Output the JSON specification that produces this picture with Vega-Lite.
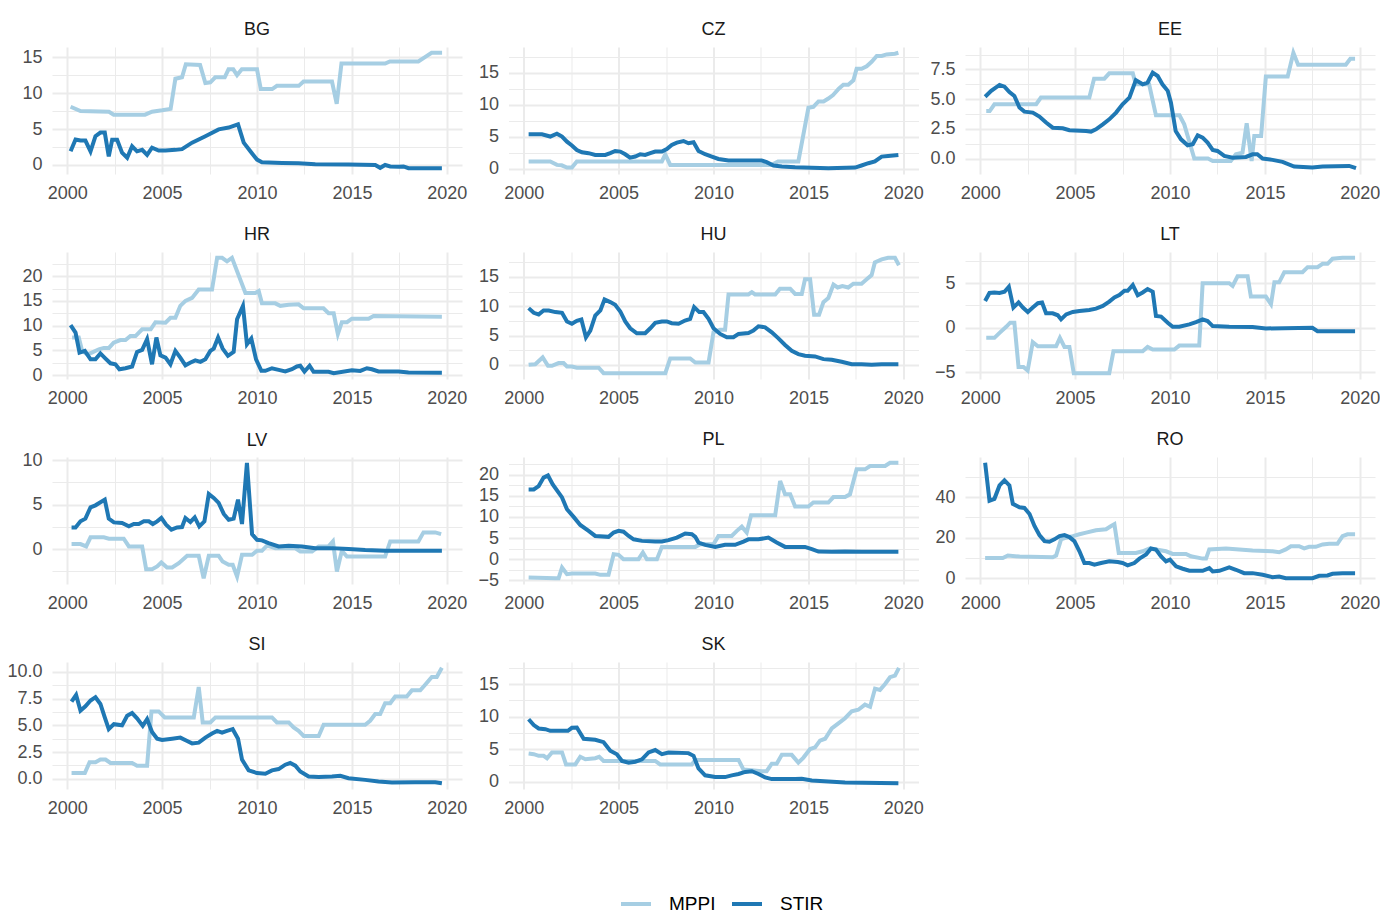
{
"$schema": "https://vega.github.io/schema/vega-lite/v6.json",
"padding": {"left": 6, "top": 20, "right": 0, "bottom": 0},
"columns": 3,
"spacing": {"row": 78, "column": 46.5},
"align": "each",
"bounds": "flush",
"datasets": {
"BG": [
{"year":2000.18,"series":"MPPI","value":8.1},{"year":2000.7,"series":"MPPI","value":7.5},{"year":2002.2,"series":"MPPI","value":7.4},{"year":2002.45,"series":"MPPI","value":7.0},{"year":2004.1,"series":"MPPI","value":7.0},{"year":2004.47,"series":"MPPI","value":7.4},{"year":2005.0,"series":"MPPI","value":7.6},{"year":2005.45,"series":"MPPI","value":7.8},{"year":2005.7,"series":"MPPI","value":12.0},{"year":2006.05,"series":"MPPI","value":12.2},{"year":2006.25,"series":"MPPI","value":14.0},{"year":2007.0,"series":"MPPI","value":13.9},{"year":2007.28,"series":"MPPI","value":11.4},{"year":2007.54,"series":"MPPI","value":11.5},{"year":2007.8,"series":"MPPI","value":12.2},{"year":2008.3,"series":"MPPI","value":12.2},{"year":2008.5,"series":"MPPI","value":13.3},{"year":2008.75,"series":"MPPI","value":13.3},{"year":2008.95,"series":"MPPI","value":12.5},{"year":2009.2,"series":"MPPI","value":13.3},{"year":2010.0,"series":"MPPI","value":13.3},{"year":2010.2,"series":"MPPI","value":10.55},{"year":2010.8,"series":"MPPI","value":10.55},{"year":2011.05,"series":"MPPI","value":11.0},{"year":2012.2,"series":"MPPI","value":11.0},{"year":2012.45,"series":"MPPI","value":11.6},{"year":2013.95,"series":"MPPI","value":11.6},{"year":2014.2,"series":"MPPI","value":8.5},{"year":2014.45,"series":"MPPI","value":14.1},{"year":2016.75,"series":"MPPI","value":14.1},{"year":2017.0,"series":"MPPI","value":14.4},{"year":2018.5,"series":"MPPI","value":14.4},{"year":2018.85,"series":"MPPI","value":15.0},{"year":2019.2,"series":"MPPI","value":15.6},{"year":2019.75,"series":"MPPI","value":15.6},
{"year":2000.18,"series":"STIR","value":1.9},{"year":2000.44,"series":"STIR","value":3.55},{"year":2000.7,"series":"STIR","value":3.4},{"year":2000.96,"series":"STIR","value":3.4},{"year":2001.23,"series":"STIR","value":1.9},{"year":2001.49,"series":"STIR","value":4.0},{"year":2001.75,"series":"STIR","value":4.5},{"year":2001.98,"series":"STIR","value":4.5},{"year":2002.19,"series":"STIR","value":1.2},{"year":2002.37,"series":"STIR","value":3.5},{"year":2002.63,"series":"STIR","value":3.5},{"year":2002.89,"series":"STIR","value":1.7},{"year":2003.16,"series":"STIR","value":1.0},{"year":2003.42,"series":"STIR","value":2.6},{"year":2003.68,"series":"STIR","value":1.9},{"year":2003.95,"series":"STIR","value":2.1},{"year":2004.21,"series":"STIR","value":1.4},{"year":2004.47,"series":"STIR","value":2.4},{"year":2004.82,"series":"STIR","value":2.0},{"year":2005.18,"series":"STIR","value":2.0},{"year":2005.7,"series":"STIR","value":2.1},{"year":2006.05,"series":"STIR","value":2.2},{"year":2006.58,"series":"STIR","value":3.1},{"year":2007.28,"series":"STIR","value":4.0},{"year":2007.98,"series":"STIR","value":4.95},{"year":2008.51,"series":"STIR","value":5.2},{"year":2009.0,"series":"STIR","value":5.65},{"year":2009.3,"series":"STIR","value":3.1},{"year":2009.65,"series":"STIR","value":1.9},{"year":2010.0,"series":"STIR","value":0.75},{"year":2010.26,"series":"STIR","value":0.37},{"year":2011.32,"series":"STIR","value":0.28},{"year":2012.19,"series":"STIR","value":0.23},{"year":2013.07,"series":"STIR","value":0.1},{"year":2014.82,"series":"STIR","value":0.05},{"year":2016.23,"series":"STIR","value":0.0},{"year":2016.49,"series":"STIR","value":-0.4},{"year":2016.75,"series":"STIR","value":0.0},{"year":2017.02,"series":"STIR","value":-0.2},{"year":2017.46,"series":"STIR","value":-0.25},{"year":2017.72,"series":"STIR","value":-0.2},{"year":2017.98,"series":"STIR","value":-0.45},{"year":2019.74,"series":"STIR","value":-0.45}
],
"CZ": [
{"year":2000.26,"series":"MPPI","value":1.1},{"year":2001.4,"series":"MPPI","value":1.1},{"year":2001.75,"series":"MPPI","value":0.57},{"year":2002.0,"series":"MPPI","value":0.5},{"year":2002.28,"series":"MPPI","value":0.15},{"year":2002.54,"series":"MPPI","value":0.15},{"year":2002.8,"series":"MPPI","value":1.1},{"year":2007.28,"series":"MPPI","value":1.1},{"year":2007.46,"series":"MPPI","value":2.2},{"year":2007.72,"series":"MPPI","value":0.57},{"year":2013.07,"series":"MPPI","value":0.57},{"year":2013.4,"series":"MPPI","value":1.1},{"year":2014.47,"series":"MPPI","value":1.1},{"year":2015.0,"series":"MPPI","value":9.5},{"year":2015.26,"series":"MPPI","value":9.65},{"year":2015.53,"series":"MPPI","value":10.5},{"year":2015.8,"series":"MPPI","value":10.5},{"year":2016.05,"series":"MPPI","value":10.95},{"year":2016.3,"series":"MPPI","value":11.5},{"year":2016.6,"series":"MPPI","value":12.5},{"year":2016.84,"series":"MPPI","value":13.1},{"year":2017.1,"series":"MPPI","value":13.1},{"year":2017.37,"series":"MPPI","value":13.8},{"year":2017.54,"series":"MPPI","value":15.6},{"year":2017.8,"series":"MPPI","value":15.6},{"year":2018.07,"series":"MPPI","value":16.0},{"year":2018.33,"series":"MPPI","value":16.7},{"year":2018.6,"series":"MPPI","value":17.6},{"year":2018.86,"series":"MPPI","value":17.6},{"year":2019.12,"series":"MPPI","value":17.85},{"year":2019.56,"series":"MPPI","value":17.95},{"year":2019.74,"series":"MPPI","value":18.1},
{"year":2000.26,"series":"STIR","value":5.35},{"year":2000.96,"series":"STIR","value":5.35},{"year":2001.4,"series":"STIR","value":5.0},{"year":2001.75,"series":"STIR","value":5.45},{"year":2002.02,"series":"STIR","value":5.0},{"year":2002.28,"series":"STIR","value":4.2},{"year":2002.54,"series":"STIR","value":3.6},{"year":2002.8,"series":"STIR","value":2.9},{"year":2003.07,"series":"STIR","value":2.55},{"year":2003.42,"series":"STIR","value":2.4},{"year":2003.77,"series":"STIR","value":2.13},{"year":2004.3,"series":"STIR","value":2.13},{"year":2004.56,"series":"STIR","value":2.4},{"year":2004.82,"series":"STIR","value":2.75},{"year":2005.09,"series":"STIR","value":2.65},{"year":2005.35,"series":"STIR","value":2.23},{"year":2005.6,"series":"STIR","value":1.7},{"year":2005.88,"series":"STIR","value":1.87},{"year":2006.14,"series":"STIR","value":2.23},{"year":2006.4,"series":"STIR","value":2.13},{"year":2006.67,"series":"STIR","value":2.4},{"year":2006.93,"series":"STIR","value":2.65},{"year":2007.28,"series":"STIR","value":2.65},{"year":2007.54,"series":"STIR","value":3.06},{"year":2007.8,"series":"STIR","value":3.7},{"year":2008.07,"series":"STIR","value":4.05},{"year":2008.42,"series":"STIR","value":4.3},{"year":2008.68,"series":"STIR","value":3.95},{"year":2008.95,"series":"STIR","value":4.1},{"year":2009.21,"series":"STIR","value":2.75},{"year":2009.56,"series":"STIR","value":2.23},{"year":2009.91,"series":"STIR","value":1.87},{"year":2010.26,"series":"STIR","value":1.5},{"year":2010.79,"series":"STIR","value":1.25},{"year":2012.54,"series":"STIR","value":1.25},{"year":2012.8,"series":"STIR","value":1.0},{"year":2013.16,"series":"STIR","value":0.47},{"year":2013.6,"series":"STIR","value":0.31},{"year":2014.3,"series":"STIR","value":0.2},{"year":2016.05,"series":"STIR","value":0.05},{"year":2017.46,"series":"STIR","value":0.15},{"year":2017.8,"series":"STIR","value":0.47},{"year":2018.16,"series":"STIR","value":0.83},{"year":2018.5,"series":"STIR","value":1.1},{"year":2018.86,"series":"STIR","value":1.87},{"year":2019.2,"series":"STIR","value":1.97},{"year":2019.74,"series":"STIR","value":2.13}
],
"EE": [
{"year":2000.32,"series":"MPPI","value":4.0},{"year":2000.5,"series":"MPPI","value":4.0},{"year":2000.75,"series":"MPPI","value":4.57},{"year":2002.95,"series":"MPPI","value":4.57},{"year":2003.2,"series":"MPPI","value":5.13},{"year":2005.75,"series":"MPPI","value":5.13},{"year":2006.0,"series":"MPPI","value":6.72},{"year":2006.54,"series":"MPPI","value":6.72},{"year":2006.8,"series":"MPPI","value":7.17},{"year":2008.04,"series":"MPPI","value":7.17},{"year":2008.2,"series":"MPPI","value":6.25},{"year":2008.9,"series":"MPPI","value":6.25},{"year":2009.26,"series":"MPPI","value":3.64},{"year":2010.5,"series":"MPPI","value":3.64},{"year":2010.75,"series":"MPPI","value":2.88},{"year":2011.28,"series":"MPPI","value":0.0},{"year":2012.0,"series":"MPPI","value":0.0},{"year":2012.25,"series":"MPPI","value":-0.2},{"year":2013.2,"series":"MPPI","value":-0.2},{"year":2013.47,"series":"MPPI","value":0.36},{"year":2013.82,"series":"MPPI","value":0.5},{"year":2014.04,"series":"MPPI","value":2.97},{"year":2014.3,"series":"MPPI","value":-0.2},{"year":2014.44,"series":"MPPI","value":1.9},{"year":2014.8,"series":"MPPI","value":1.9},{"year":2015.05,"series":"MPPI","value":6.9},{"year":2016.2,"series":"MPPI","value":6.9},{"year":2016.5,"series":"MPPI","value":8.9},{"year":2016.75,"series":"MPPI","value":7.9},{"year":2019.26,"series":"MPPI","value":7.9},{"year":2019.5,"series":"MPPI","value":8.4},{"year":2019.75,"series":"MPPI","value":8.4},
{"year":2000.26,"series":"STIR","value":5.2},{"year":2000.58,"series":"STIR","value":5.7},{"year":2001.02,"series":"STIR","value":6.2},{"year":2001.28,"series":"STIR","value":6.05},{"year":2001.54,"series":"STIR","value":5.6},{"year":2001.8,"series":"STIR","value":5.27},{"year":2002.07,"series":"STIR","value":4.29},{"year":2002.33,"series":"STIR","value":3.95},{"year":2002.77,"series":"STIR","value":3.87},{"year":2003.12,"series":"STIR","value":3.53},{"year":2003.47,"series":"STIR","value":3.03},{"year":2003.82,"series":"STIR","value":2.6},{"year":2004.35,"series":"STIR","value":2.55},{"year":2004.7,"series":"STIR","value":2.38},{"year":2005.58,"series":"STIR","value":2.32},{"year":2005.84,"series":"STIR","value":2.27},{"year":2006.1,"series":"STIR","value":2.46},{"year":2006.46,"series":"STIR","value":2.88},{"year":2006.8,"series":"STIR","value":3.3},{"year":2007.16,"series":"STIR","value":3.87},{"year":2007.5,"series":"STIR","value":4.57},{"year":2007.86,"series":"STIR","value":5.13},{"year":2008.2,"series":"STIR","value":6.6},{"year":2008.56,"series":"STIR","value":6.25},{"year":2008.82,"series":"STIR","value":6.4},{"year":2009.09,"series":"STIR","value":7.23},{"year":2009.35,"series":"STIR","value":6.95},{"year":2009.6,"series":"STIR","value":6.25},{"year":2009.88,"series":"STIR","value":5.7},{"year":2010.05,"series":"STIR","value":4.7},{"year":2010.3,"series":"STIR","value":2.32},{"year":2010.58,"series":"STIR","value":1.62},{"year":2010.93,"series":"STIR","value":1.12},{"year":2011.2,"series":"STIR","value":1.2},{"year":2011.46,"series":"STIR","value":1.96},{"year":2011.72,"series":"STIR","value":1.76},{"year":2011.98,"series":"STIR","value":1.34},{"year":2012.25,"series":"STIR","value":0.73},{"year":2012.5,"series":"STIR","value":0.64},{"year":2012.86,"series":"STIR","value":0.22},{"year":2013.3,"series":"STIR","value":0.08},{"year":2014.0,"series":"STIR","value":0.14},{"year":2014.35,"series":"STIR","value":0.36},{"year":2014.6,"series":"STIR","value":0.36},{"year":2014.88,"series":"STIR","value":0.0},{"year":2015.4,"series":"STIR","value":-0.11},{"year":2015.93,"series":"STIR","value":-0.28},{"year":2016.54,"series":"STIR","value":-0.67},{"year":2017.5,"series":"STIR","value":-0.76},{"year":2018.04,"series":"STIR","value":-0.67},{"year":2019.44,"series":"STIR","value":-0.62},{"year":2019.8,"series":"STIR","value":-0.81}
],
"HR": [
{"year":2000.26,"series":"MPPI","value":7.6},{"year":2000.61,"series":"MPPI","value":7.6},{"year":2000.79,"series":"MPPI","value":4.9},{"year":2001.05,"series":"MPPI","value":4.2},{"year":2001.3,"series":"MPPI","value":4.56},{"year":2001.67,"series":"MPPI","value":5.23},{"year":2001.93,"series":"MPPI","value":5.5},{"year":2002.2,"series":"MPPI","value":5.5},{"year":2002.45,"series":"MPPI","value":6.58},{"year":2002.8,"series":"MPPI","value":7.1},{"year":2003.07,"series":"MPPI","value":7.1},{"year":2003.33,"series":"MPPI","value":7.9},{"year":2003.6,"series":"MPPI","value":7.9},{"year":2003.95,"series":"MPPI","value":9.26},{"year":2004.4,"series":"MPPI","value":9.26},{"year":2004.65,"series":"MPPI","value":10.7},{"year":2005.18,"series":"MPPI","value":10.6},{"year":2005.44,"series":"MPPI","value":11.6},{"year":2005.7,"series":"MPPI","value":11.6},{"year":2005.96,"series":"MPPI","value":14.0},{"year":2006.23,"series":"MPPI","value":15.0},{"year":2006.58,"series":"MPPI","value":15.6},{"year":2006.93,"series":"MPPI","value":17.3},{"year":2007.63,"series":"MPPI","value":17.3},{"year":2007.9,"series":"MPPI","value":23.7},{"year":2008.16,"series":"MPPI","value":23.7},{"year":2008.42,"series":"MPPI","value":23.0},{"year":2008.68,"series":"MPPI","value":23.7},{"year":2009.39,"series":"MPPI","value":16.6},{"year":2009.91,"series":"MPPI","value":16.6},{"year":2010.09,"series":"MPPI","value":17.0},{"year":2010.26,"series":"MPPI","value":14.5},{"year":2010.96,"series":"MPPI","value":14.5},{"year":2011.23,"series":"MPPI","value":14.0},{"year":2011.67,"series":"MPPI","value":14.2},{"year":2012.19,"series":"MPPI","value":14.3},{"year":2012.46,"series":"MPPI","value":13.5},{"year":2013.5,"series":"MPPI","value":13.5},{"year":2013.77,"series":"MPPI","value":12.5},{"year":2014.04,"series":"MPPI","value":12.5},{"year":2014.26,"series":"MPPI","value":8.3},{"year":2014.47,"series":"MPPI","value":10.7},{"year":2014.74,"series":"MPPI","value":10.7},{"year":2015.0,"series":"MPPI","value":11.4},{"year":2015.88,"series":"MPPI","value":11.4},{"year":2016.14,"series":"MPPI","value":11.95},{"year":2019.74,"series":"MPPI","value":11.8},
{"year":2000.18,"series":"STIR","value":10.1},{"year":2000.44,"series":"STIR","value":8.6},{"year":2000.65,"series":"STIR","value":4.56},{"year":2000.93,"series":"STIR","value":4.9},{"year":2001.23,"series":"STIR","value":3.2},{"year":2001.49,"series":"STIR","value":3.2},{"year":2001.75,"series":"STIR","value":4.4},{"year":2002.02,"series":"STIR","value":3.36},{"year":2002.28,"series":"STIR","value":2.4},{"year":2002.54,"series":"STIR","value":2.2},{"year":2002.75,"series":"STIR","value":1.2},{"year":2003.07,"series":"STIR","value":1.4},{"year":2003.42,"series":"STIR","value":1.75},{"year":2003.68,"series":"STIR","value":4.7},{"year":2003.95,"series":"STIR","value":5.1},{"year":2004.21,"series":"STIR","value":7.25},{"year":2004.47,"series":"STIR","value":2.2},{"year":2004.7,"series":"STIR","value":7.6},{"year":2004.91,"series":"STIR","value":4.0},{"year":2005.18,"series":"STIR","value":3.56},{"year":2005.44,"series":"STIR","value":2.2},{"year":2005.7,"series":"STIR","value":4.9},{"year":2005.96,"series":"STIR","value":3.56},{"year":2006.23,"series":"STIR","value":2.0},{"year":2006.5,"series":"STIR","value":2.55},{"year":2006.75,"series":"STIR","value":3.0},{"year":2007.02,"series":"STIR","value":2.7},{"year":2007.28,"series":"STIR","value":3.2},{"year":2007.54,"series":"STIR","value":4.9},{"year":2007.72,"series":"STIR","value":5.37},{"year":2007.95,"series":"STIR","value":7.6},{"year":2008.19,"series":"STIR","value":5.37},{"year":2008.47,"series":"STIR","value":3.9},{"year":2008.77,"series":"STIR","value":4.7},{"year":2008.95,"series":"STIR","value":11.3},{"year":2009.26,"series":"STIR","value":14.0},{"year":2009.47,"series":"STIR","value":6.24},{"year":2009.7,"series":"STIR","value":7.4},{"year":2009.95,"series":"STIR","value":3.2},{"year":2010.23,"series":"STIR","value":0.87},{"year":2010.44,"series":"STIR","value":0.87},{"year":2010.79,"series":"STIR","value":1.4},{"year":2011.14,"series":"STIR","value":1.07},{"year":2011.49,"series":"STIR","value":0.74},{"year":2011.84,"series":"STIR","value":1.2},{"year":2012.1,"series":"STIR","value":1.75},{"year":2012.28,"series":"STIR","value":1.9},{"year":2012.5,"series":"STIR","value":0.74},{"year":2012.77,"series":"STIR","value":1.9},{"year":2012.98,"series":"STIR","value":0.67},{"year":2013.77,"series":"STIR","value":0.67},{"year":2014.04,"series":"STIR","value":0.4},{"year":2015.0,"series":"STIR","value":1.0},{"year":2015.44,"series":"STIR","value":0.87},{"year":2015.79,"series":"STIR","value":1.4},{"year":2016.05,"series":"STIR","value":1.2},{"year":2016.4,"series":"STIR","value":0.74},{"year":2017.46,"series":"STIR","value":0.74},{"year":2017.98,"series":"STIR","value":0.54},{"year":2019.74,"series":"STIR","value":0.47}
],
"HU": [
{"year":2000.26,"series":"MPPI","value":0.0},{"year":2000.61,"series":"MPPI","value":0.1},{"year":2001.0,"series":"MPPI","value":1.26},{"year":2001.28,"series":"MPPI","value":-0.17},{"year":2001.49,"series":"MPPI","value":-0.17},{"year":2001.84,"series":"MPPI","value":0.29},{"year":2002.1,"series":"MPPI","value":0.29},{"year":2002.28,"series":"MPPI","value":-0.29},{"year":2002.54,"series":"MPPI","value":-0.29},{"year":2002.8,"series":"MPPI","value":-0.5},{"year":2003.95,"series":"MPPI","value":-0.5},{"year":2004.21,"series":"MPPI","value":-1.43},{"year":2007.46,"series":"MPPI","value":-1.43},{"year":2007.72,"series":"MPPI","value":1.09},{"year":2008.77,"series":"MPPI","value":1.09},{"year":2009.04,"series":"MPPI","value":0.4},{"year":2009.74,"series":"MPPI","value":0.4},{"year":2010.0,"series":"MPPI","value":5.55},{"year":2010.35,"series":"MPPI","value":6.0},{"year":2010.61,"series":"MPPI","value":6.0},{"year":2010.79,"series":"MPPI","value":12.0},{"year":2011.84,"series":"MPPI","value":12.0},{"year":2012.02,"series":"MPPI","value":12.4},{"year":2012.19,"series":"MPPI","value":12.0},{"year":2013.25,"series":"MPPI","value":12.0},{"year":2013.5,"series":"MPPI","value":13.0},{"year":2014.04,"series":"MPPI","value":13.0},{"year":2014.3,"series":"MPPI","value":12.1},{"year":2014.65,"series":"MPPI","value":12.1},{"year":2014.82,"series":"MPPI","value":14.6},{"year":2015.09,"series":"MPPI","value":14.6},{"year":2015.3,"series":"MPPI","value":8.53},{"year":2015.56,"series":"MPPI","value":8.53},{"year":2015.79,"series":"MPPI","value":10.7},{"year":2016.05,"series":"MPPI","value":11.4},{"year":2016.32,"series":"MPPI","value":13.7},{"year":2016.54,"series":"MPPI","value":13.2},{"year":2016.79,"series":"MPPI","value":13.45},{"year":2017.1,"series":"MPPI","value":13.2},{"year":2017.37,"series":"MPPI","value":13.85},{"year":2017.8,"series":"MPPI","value":13.85},{"year":2018.07,"series":"MPPI","value":14.6},{"year":2018.33,"series":"MPPI","value":15.3},{"year":2018.5,"series":"MPPI","value":17.46},{"year":2018.86,"series":"MPPI","value":18.0},{"year":2019.2,"series":"MPPI","value":18.26},{"year":2019.56,"series":"MPPI","value":18.26},{"year":2019.77,"series":"MPPI","value":17.0},
{"year":2000.26,"series":"STIR","value":9.67},{"year":2000.53,"series":"STIR","value":8.87},{"year":2000.79,"series":"STIR","value":8.6},{"year":2001.05,"series":"STIR","value":9.27},{"year":2001.32,"series":"STIR","value":9.27},{"year":2001.67,"series":"STIR","value":9.0},{"year":2002.02,"series":"STIR","value":8.87},{"year":2002.28,"series":"STIR","value":7.4},{"year":2002.54,"series":"STIR","value":7.0},{"year":2002.8,"series":"STIR","value":7.5},{"year":2003.04,"series":"STIR","value":7.73},{"year":2003.28,"series":"STIR","value":4.7},{"year":2003.51,"series":"STIR","value":5.84},{"year":2003.77,"series":"STIR","value":8.4},{"year":2004.04,"series":"STIR","value":9.27},{"year":2004.26,"series":"STIR","value":11.16},{"year":2004.56,"series":"STIR","value":10.7},{"year":2004.82,"series":"STIR","value":10.25},{"year":2005.09,"series":"STIR","value":9.1},{"year":2005.35,"series":"STIR","value":7.4},{"year":2005.61,"series":"STIR","value":6.24},{"year":2005.96,"series":"STIR","value":5.38},{"year":2006.4,"series":"STIR","value":5.38},{"year":2006.67,"series":"STIR","value":6.24},{"year":2006.93,"series":"STIR","value":7.16},{"year":2007.28,"series":"STIR","value":7.4},{"year":2007.54,"series":"STIR","value":7.4},{"year":2007.8,"series":"STIR","value":7.1},{"year":2008.16,"series":"STIR","value":7.0},{"year":2008.5,"series":"STIR","value":7.56},{"year":2008.77,"series":"STIR","value":7.84},{"year":2008.98,"series":"STIR","value":9.85},{"year":2009.25,"series":"STIR","value":9.0},{"year":2009.47,"series":"STIR","value":9.0},{"year":2009.74,"series":"STIR","value":7.84},{"year":2010.0,"series":"STIR","value":6.24},{"year":2010.35,"series":"STIR","value":5.27},{"year":2010.7,"series":"STIR","value":4.7},{"year":2011.05,"series":"STIR","value":4.7},{"year":2011.32,"series":"STIR","value":5.27},{"year":2011.84,"series":"STIR","value":5.44},{"year":2012.1,"series":"STIR","value":5.84},{"year":2012.37,"series":"STIR","value":6.58},{"year":2012.72,"series":"STIR","value":6.4},{"year":2013.07,"series":"STIR","value":5.55},{"year":2013.42,"series":"STIR","value":4.52},{"year":2013.77,"series":"STIR","value":3.38},{"year":2014.12,"series":"STIR","value":2.4},{"year":2014.47,"series":"STIR","value":1.83},{"year":2014.82,"series":"STIR","value":1.55},{"year":2015.35,"series":"STIR","value":1.43},{"year":2015.79,"series":"STIR","value":0.97},{"year":2016.23,"series":"STIR","value":0.86},{"year":2016.75,"series":"STIR","value":0.52},{"year":2017.28,"series":"STIR","value":0.11},{"year":2017.8,"series":"STIR","value":0.11},{"year":2018.33,"series":"STIR","value":0.0},{"year":2018.86,"series":"STIR","value":0.11},{"year":2019.74,"series":"STIR","value":0.11}
],
"LT": [
{"year":2000.32,"series":"MPPI","value":-1.13},{"year":2000.75,"series":"MPPI","value":-1.13},{"year":2001.02,"series":"MPPI","value":-0.57},{"year":2001.37,"series":"MPPI","value":0.11},{"year":2001.58,"series":"MPPI","value":0.57},{"year":2001.8,"series":"MPPI","value":0.57},{"year":2002.02,"series":"MPPI","value":-4.4},{"year":2002.28,"series":"MPPI","value":-4.4},{"year":2002.5,"series":"MPPI","value":-4.8},{"year":2002.77,"series":"MPPI","value":-1.62},{"year":2003.04,"series":"MPPI","value":-2.08},{"year":2004.0,"series":"MPPI","value":-2.08},{"year":2004.2,"series":"MPPI","value":-1.13},{"year":2004.44,"series":"MPPI","value":-2.15},{"year":2004.7,"series":"MPPI","value":-2.15},{"year":2004.93,"series":"MPPI","value":-5.1},{"year":2006.8,"series":"MPPI","value":-5.1},{"year":2007.02,"series":"MPPI","value":-2.64},{"year":2008.56,"series":"MPPI","value":-2.64},{"year":2008.82,"series":"MPPI","value":-2.15},{"year":2009.09,"series":"MPPI","value":-2.45},{"year":2010.23,"series":"MPPI","value":-2.45},{"year":2010.49,"series":"MPPI","value":-2.0},{"year":2011.54,"series":"MPPI","value":-2.0},{"year":2011.72,"series":"MPPI","value":5.0},{"year":2013.12,"series":"MPPI","value":5.0},{"year":2013.3,"series":"MPPI","value":4.7},{"year":2013.56,"series":"MPPI","value":5.77},{"year":2014.09,"series":"MPPI","value":5.77},{"year":2014.26,"series":"MPPI","value":3.5},{"year":2015.05,"series":"MPPI","value":3.5},{"year":2015.32,"series":"MPPI","value":2.64},{"year":2015.5,"series":"MPPI","value":5.1},{"year":2015.75,"series":"MPPI","value":5.1},{"year":2016.02,"series":"MPPI","value":6.23},{"year":2016.98,"series":"MPPI","value":6.23},{"year":2017.25,"series":"MPPI","value":6.8},{"year":2017.77,"series":"MPPI","value":6.8},{"year":2018.04,"series":"MPPI","value":7.17},{"year":2018.3,"series":"MPPI","value":7.17},{"year":2018.56,"series":"MPPI","value":7.74},{"year":2019.09,"series":"MPPI","value":7.85},{"year":2019.75,"series":"MPPI","value":7.85},
{"year":2000.26,"series":"STIR","value":3.0},{"year":2000.49,"series":"STIR","value":3.9},{"year":2000.75,"series":"STIR","value":3.96},{"year":2001.02,"series":"STIR","value":3.9},{"year":2001.28,"series":"STIR","value":4.04},{"year":2001.51,"series":"STIR","value":4.6},{"year":2001.75,"series":"STIR","value":2.26},{"year":2002.02,"series":"STIR","value":2.83},{"year":2002.25,"series":"STIR","value":2.26},{"year":2002.51,"series":"STIR","value":1.77},{"year":2002.77,"series":"STIR","value":2.26},{"year":2003.04,"series":"STIR","value":2.75},{"year":2003.26,"series":"STIR","value":2.83},{"year":2003.47,"series":"STIR","value":1.62},{"year":2003.82,"series":"STIR","value":1.62},{"year":2004.09,"series":"STIR","value":1.4},{"year":2004.26,"series":"STIR","value":0.94},{"year":2004.53,"series":"STIR","value":1.5},{"year":2004.88,"series":"STIR","value":1.77},{"year":2005.23,"series":"STIR","value":1.89},{"year":2005.75,"series":"STIR","value":2.0},{"year":2006.1,"series":"STIR","value":2.15},{"year":2006.46,"series":"STIR","value":2.45},{"year":2006.8,"series":"STIR","value":2.94},{"year":2007.07,"series":"STIR","value":3.4},{"year":2007.33,"series":"STIR","value":3.66},{"year":2007.6,"series":"STIR","value":4.15},{"year":2007.77,"series":"STIR","value":4.15},{"year":2008.04,"series":"STIR","value":4.8},{"year":2008.3,"series":"STIR","value":3.66},{"year":2008.56,"series":"STIR","value":3.96},{"year":2008.82,"series":"STIR","value":4.34},{"year":2009.09,"series":"STIR","value":4.04},{"year":2009.26,"series":"STIR","value":1.32},{"year":2009.53,"series":"STIR","value":1.25},{"year":2009.88,"series":"STIR","value":0.57},{"year":2010.14,"series":"STIR","value":0.11},{"year":2010.49,"series":"STIR","value":0.11},{"year":2011.02,"series":"STIR","value":0.38},{"year":2011.37,"series":"STIR","value":0.64},{"year":2011.72,"series":"STIR","value":0.94},{"year":2011.98,"series":"STIR","value":0.75},{"year":2012.25,"series":"STIR","value":0.19},{"year":2013.12,"series":"STIR","value":0.11},{"year":2014.35,"series":"STIR","value":0.08},{"year":2015.05,"series":"STIR","value":-0.08},{"year":2017.5,"series":"STIR","value":0.0},{"year":2017.77,"series":"STIR","value":-0.38},{"year":2019.75,"series":"STIR","value":-0.38}
],
"LV": [
{"year":2000.23,"series":"MPPI","value":0.56},{"year":2000.7,"series":"MPPI","value":0.56},{"year":2001.0,"series":"MPPI","value":0.3},{"year":2001.23,"series":"MPPI","value":1.32},{"year":2001.93,"series":"MPPI","value":1.32},{"year":2002.2,"series":"MPPI","value":1.17},{"year":2002.98,"series":"MPPI","value":1.17},{"year":2003.25,"series":"MPPI","value":0.3},{"year":2003.95,"series":"MPPI","value":0.3},{"year":2004.16,"series":"MPPI","value":-2.26},{"year":2004.47,"series":"MPPI","value":-2.26},{"year":2004.74,"series":"MPPI","value":-1.95},{"year":2004.96,"series":"MPPI","value":-1.5},{"year":2005.26,"series":"MPPI","value":-2.07},{"year":2005.53,"series":"MPPI","value":-2.07},{"year":2005.88,"series":"MPPI","value":-1.58},{"year":2006.32,"series":"MPPI","value":-0.75},{"year":2006.93,"series":"MPPI","value":-0.75},{"year":2007.19,"series":"MPPI","value":-3.27},{"year":2007.46,"series":"MPPI","value":-0.75},{"year":2007.98,"series":"MPPI","value":-0.75},{"year":2008.19,"series":"MPPI","value":-1.4},{"year":2008.51,"series":"MPPI","value":-1.77},{"year":2008.72,"series":"MPPI","value":-1.77},{"year":2008.95,"series":"MPPI","value":-3.08},{"year":2009.21,"series":"MPPI","value":-0.64},{"year":2009.74,"series":"MPPI","value":-0.64},{"year":2010.0,"series":"MPPI","value":-0.19},{"year":2010.26,"series":"MPPI","value":-0.19},{"year":2010.53,"series":"MPPI","value":0.41},{"year":2010.96,"series":"MPPI","value":0.11},{"year":2012.0,"series":"MPPI","value":0.11},{"year":2012.28,"series":"MPPI","value":-0.26},{"year":2012.9,"series":"MPPI","value":-0.26},{"year":2013.25,"series":"MPPI","value":0.3},{"year":2013.77,"series":"MPPI","value":0.3},{"year":2014.0,"series":"MPPI","value":0.86},{"year":2014.21,"series":"MPPI","value":-2.52},{"year":2014.47,"series":"MPPI","value":-0.19},{"year":2014.74,"series":"MPPI","value":-0.83},{"year":2016.75,"series":"MPPI","value":-0.83},{"year":2017.02,"series":"MPPI","value":0.86},{"year":2018.5,"series":"MPPI","value":0.86},{"year":2018.77,"series":"MPPI","value":1.88},{"year":2019.39,"series":"MPPI","value":1.88},{"year":2019.7,"series":"MPPI","value":1.69},
{"year":2000.23,"series":"STIR","value":2.44},{"year":2000.44,"series":"STIR","value":2.44},{"year":2000.7,"series":"STIR","value":3.12},{"year":2000.96,"series":"STIR","value":3.42},{"year":2001.23,"series":"STIR","value":4.7},{"year":2001.49,"series":"STIR","value":4.92},{"year":2001.98,"series":"STIR","value":5.56},{"year":2002.19,"series":"STIR","value":3.42},{"year":2002.46,"series":"STIR","value":3.0},{"year":2002.89,"series":"STIR","value":2.93},{"year":2003.25,"series":"STIR","value":2.56},{"year":2003.51,"series":"STIR","value":2.82},{"year":2003.77,"series":"STIR","value":2.82},{"year":2004.04,"series":"STIR","value":3.12},{"year":2004.3,"series":"STIR","value":3.12},{"year":2004.51,"series":"STIR","value":2.82},{"year":2004.74,"series":"STIR","value":3.12},{"year":2004.96,"series":"STIR","value":3.5},{"year":2005.21,"series":"STIR","value":2.74},{"year":2005.49,"series":"STIR","value":2.18},{"year":2005.79,"series":"STIR","value":2.44},{"year":2006.05,"series":"STIR","value":2.48},{"year":2006.23,"series":"STIR","value":3.5},{"year":2006.49,"series":"STIR","value":3.05},{"year":2006.72,"series":"STIR","value":3.57},{"year":2006.96,"series":"STIR","value":2.56},{"year":2007.23,"series":"STIR","value":3.12},{"year":2007.46,"series":"STIR","value":6.2},{"year":2007.72,"series":"STIR","value":5.75},{"year":2007.98,"series":"STIR","value":5.19},{"year":2008.25,"series":"STIR","value":3.95},{"year":2008.51,"series":"STIR","value":3.3},{"year":2008.77,"series":"STIR","value":3.42},{"year":2009.0,"series":"STIR","value":5.56},{"year":2009.21,"series":"STIR","value":2.82},{"year":2009.47,"series":"STIR","value":9.7},{"year":2009.74,"series":"STIR","value":1.69},{"year":2010.0,"series":"STIR","value":1.05},{"year":2010.26,"series":"STIR","value":0.98},{"year":2010.61,"series":"STIR","value":0.68},{"year":2011.14,"series":"STIR","value":0.3},{"year":2011.67,"series":"STIR","value":0.38},{"year":2012.37,"series":"STIR","value":0.3},{"year":2013.07,"series":"STIR","value":0.11},{"year":2013.95,"series":"STIR","value":0.11},{"year":2014.82,"series":"STIR","value":0.0},{"year":2015.7,"series":"STIR","value":-0.11},{"year":2016.75,"series":"STIR","value":-0.19},{"year":2019.74,"series":"STIR","value":-0.19}
],
"PL": [
{"year":2000.26,"series":"MPPI","value":-4.33},{"year":2001.67,"series":"MPPI","value":-4.5},{"year":2001.84,"series":"MPPI","value":-4.5},{"year":2002.02,"series":"MPPI","value":-1.97},{"year":2002.28,"series":"MPPI","value":-3.54},{"year":2002.54,"series":"MPPI","value":-3.39},{"year":2003.77,"series":"MPPI","value":-3.39},{"year":2004.04,"series":"MPPI","value":-3.7},{"year":2004.47,"series":"MPPI","value":-3.7},{"year":2004.74,"series":"MPPI","value":1.18},{"year":2005.0,"series":"MPPI","value":1.02},{"year":2005.26,"series":"MPPI","value":0.0},{"year":2006.05,"series":"MPPI","value":0.0},{"year":2006.28,"series":"MPPI","value":1.57},{"year":2006.49,"series":"MPPI","value":0.0},{"year":2007.02,"series":"MPPI","value":0.0},{"year":2007.28,"series":"MPPI","value":2.91},{"year":2009.04,"series":"MPPI","value":2.91},{"year":2009.3,"series":"MPPI","value":3.54},{"year":2010.0,"series":"MPPI","value":3.54},{"year":2010.26,"series":"MPPI","value":5.5},{"year":2010.96,"series":"MPPI","value":5.5},{"year":2011.23,"series":"MPPI","value":6.7},{"year":2011.49,"series":"MPPI","value":7.7},{"year":2011.75,"series":"MPPI","value":6.3},{"year":2011.98,"series":"MPPI","value":10.4},{"year":2013.25,"series":"MPPI","value":10.4},{"year":2013.51,"series":"MPPI","value":18.5},{"year":2013.77,"series":"MPPI","value":15.35},{"year":2014.04,"series":"MPPI","value":15.35},{"year":2014.3,"series":"MPPI","value":12.44},{"year":2015.0,"series":"MPPI","value":12.44},{"year":2015.26,"series":"MPPI","value":13.4},{"year":2016.05,"series":"MPPI","value":13.4},{"year":2016.32,"series":"MPPI","value":14.7},{"year":2016.93,"series":"MPPI","value":14.7},{"year":2017.19,"series":"MPPI","value":15.35},{"year":2017.54,"series":"MPPI","value":21.26},{"year":2017.98,"series":"MPPI","value":21.26},{"year":2018.25,"series":"MPPI","value":22.05},{"year":2019.04,"series":"MPPI","value":22.05},{"year":2019.3,"series":"MPPI","value":22.8},{"year":2019.74,"series":"MPPI","value":22.8},
{"year":2000.26,"series":"STIR","value":16.5},{"year":2000.53,"series":"STIR","value":16.5},{"year":2000.79,"series":"STIR","value":17.3},{"year":2001.05,"series":"STIR","value":19.3},{"year":2001.28,"series":"STIR","value":19.8},{"year":2001.53,"series":"STIR","value":17.7},{"year":2001.84,"series":"STIR","value":15.75},{"year":2002.02,"series":"STIR","value":14.6},{"year":2002.28,"series":"STIR","value":11.8},{"year":2002.63,"series":"STIR","value":10.0},{"year":2002.98,"series":"STIR","value":8.1},{"year":2003.42,"series":"STIR","value":6.7},{"year":2003.77,"series":"STIR","value":5.5},{"year":2004.47,"series":"STIR","value":5.28},{"year":2004.74,"series":"STIR","value":6.3},{"year":2005.0,"series":"STIR","value":6.7},{"year":2005.26,"series":"STIR","value":6.5},{"year":2005.53,"series":"STIR","value":5.5},{"year":2005.79,"series":"STIR","value":4.7},{"year":2006.23,"series":"STIR","value":4.33},{"year":2006.93,"series":"STIR","value":4.17},{"year":2007.28,"series":"STIR","value":4.17},{"year":2007.63,"series":"STIR","value":4.5},{"year":2008.07,"series":"STIR","value":5.1},{"year":2008.51,"series":"STIR","value":6.06},{"year":2008.86,"series":"STIR","value":5.9},{"year":2009.04,"series":"STIR","value":5.28},{"year":2009.21,"series":"STIR","value":3.94},{"year":2009.56,"series":"STIR","value":3.39},{"year":2010.09,"series":"STIR","value":2.91},{"year":2010.61,"series":"STIR","value":3.39},{"year":2011.14,"series":"STIR","value":3.39},{"year":2011.58,"series":"STIR","value":4.17},{"year":2011.84,"series":"STIR","value":4.7},{"year":2012.37,"series":"STIR","value":4.7},{"year":2012.89,"series":"STIR","value":5.1},{"year":2013.33,"series":"STIR","value":3.94},{"year":2013.77,"series":"STIR","value":2.91},{"year":2014.82,"series":"STIR","value":2.91},{"year":2015.18,"series":"STIR","value":2.36},{"year":2015.53,"series":"STIR","value":1.8},{"year":2016.23,"series":"STIR","value":1.73},{"year":2016.93,"series":"STIR","value":1.8},{"year":2017.8,"series":"STIR","value":1.73},{"year":2019.74,"series":"STIR","value":1.73}
],
"RO": [
{"year":2000.26,"series":"MPPI","value":10.0},{"year":2001.19,"series":"MPPI","value":10.0},{"year":2001.46,"series":"MPPI","value":11.2},{"year":2002.07,"series":"MPPI","value":10.67},{"year":2003.82,"series":"MPPI","value":10.33},{"year":2004.0,"series":"MPPI","value":11.2},{"year":2004.26,"series":"MPPI","value":19.2},{"year":2004.53,"series":"MPPI","value":20.0},{"year":2004.88,"series":"MPPI","value":20.8},{"year":2005.23,"series":"MPPI","value":21.7},{"year":2005.58,"series":"MPPI","value":22.5},{"year":2006.1,"series":"MPPI","value":23.7},{"year":2006.63,"series":"MPPI","value":24.2},{"year":2006.9,"series":"MPPI","value":25.8},{"year":2007.07,"series":"MPPI","value":26.7},{"year":2007.3,"series":"MPPI","value":12.5},{"year":2008.2,"series":"MPPI","value":12.5},{"year":2008.56,"series":"MPPI","value":13.3},{"year":2008.91,"series":"MPPI","value":14.7},{"year":2009.26,"series":"MPPI","value":14.2},{"year":2009.79,"series":"MPPI","value":13.3},{"year":2010.14,"series":"MPPI","value":12.0},{"year":2010.84,"series":"MPPI","value":12.0},{"year":2011.1,"series":"MPPI","value":10.8},{"year":2011.72,"series":"MPPI","value":9.67},{"year":2011.9,"series":"MPPI","value":9.67},{"year":2012.07,"series":"MPPI","value":14.2},{"year":2012.95,"series":"MPPI","value":14.7},{"year":2013.65,"series":"MPPI","value":14.2},{"year":2014.35,"series":"MPPI","value":13.67},{"year":2015.4,"series":"MPPI","value":13.3},{"year":2015.75,"series":"MPPI","value":12.8},{"year":2016.1,"series":"MPPI","value":14.2},{"year":2016.37,"series":"MPPI","value":15.8},{"year":2016.8,"series":"MPPI","value":15.8},{"year":2017.07,"series":"MPPI","value":14.7},{"year":2017.33,"series":"MPPI","value":15.5},{"year":2017.68,"series":"MPPI","value":15.5},{"year":2018.04,"series":"MPPI","value":16.7},{"year":2018.39,"series":"MPPI","value":17.0},{"year":2018.82,"series":"MPPI","value":17.0},{"year":2019.09,"series":"MPPI","value":20.8},{"year":2019.35,"series":"MPPI","value":21.7},{"year":2019.75,"series":"MPPI","value":21.7},
{"year":2000.26,"series":"STIR","value":57.0},{"year":2000.49,"series":"STIR","value":38.3},{"year":2000.75,"series":"STIR","value":39.2},{"year":2001.02,"series":"STIR","value":45.8},{"year":2001.28,"series":"STIR","value":48.3},{"year":2001.54,"series":"STIR","value":45.8},{"year":2001.72,"series":"STIR","value":36.7},{"year":2002.07,"series":"STIR","value":35.0},{"year":2002.33,"series":"STIR","value":34.7},{"year":2002.6,"series":"STIR","value":31.7},{"year":2002.86,"series":"STIR","value":25.8},{"year":2003.12,"series":"STIR","value":21.3},{"year":2003.39,"series":"STIR","value":18.3},{"year":2003.65,"series":"STIR","value":18.0},{"year":2003.91,"series":"STIR","value":19.2},{"year":2004.18,"series":"STIR","value":20.8},{"year":2004.44,"series":"STIR","value":21.3},{"year":2004.7,"series":"STIR","value":20.3},{"year":2004.96,"series":"STIR","value":18.3},{"year":2005.23,"series":"STIR","value":13.3},{"year":2005.49,"series":"STIR","value":7.5},{"year":2005.75,"series":"STIR","value":7.5},{"year":2006.02,"series":"STIR","value":6.67},{"year":2006.37,"series":"STIR","value":7.5},{"year":2006.8,"series":"STIR","value":8.33},{"year":2007.25,"series":"STIR","value":8.0},{"year":2007.5,"series":"STIR","value":7.5},{"year":2007.77,"series":"STIR","value":6.33},{"year":2008.12,"series":"STIR","value":7.5},{"year":2008.39,"series":"STIR","value":9.67},{"year":2008.74,"series":"STIR","value":11.67},{"year":2009.0,"series":"STIR","value":14.67},{"year":2009.26,"series":"STIR","value":14.2},{"year":2009.53,"series":"STIR","value":10.8},{"year":2009.79,"series":"STIR","value":8.33},{"year":2010.0,"series":"STIR","value":9.17},{"year":2010.32,"series":"STIR","value":5.83},{"year":2010.67,"series":"STIR","value":4.67},{"year":2011.02,"series":"STIR","value":3.67},{"year":2011.72,"series":"STIR","value":3.67},{"year":2012.07,"series":"STIR","value":5.0},{"year":2012.25,"series":"STIR","value":3.33},{"year":2012.6,"series":"STIR","value":3.67},{"year":2013.12,"series":"STIR","value":5.33},{"year":2013.47,"series":"STIR","value":4.17},{"year":2013.91,"series":"STIR","value":2.5},{"year":2014.35,"series":"STIR","value":2.5},{"year":2014.88,"series":"STIR","value":1.67},{"year":2015.4,"series":"STIR","value":0.5},{"year":2015.75,"series":"STIR","value":0.83},{"year":2016.1,"series":"STIR","value":0.0},{"year":2017.51,"series":"STIR","value":0.0},{"year":2017.86,"series":"STIR","value":1.17},{"year":2018.3,"series":"STIR","value":1.33},{"year":2018.56,"series":"STIR","value":2.17},{"year":2019.09,"series":"STIR","value":2.5},{"year":2019.75,"series":"STIR","value":2.5}
],
"SI": [
{"year":2000.23,"series":"MPPI","value":0.54},{"year":2000.93,"series":"MPPI","value":0.54},{"year":2001.18,"series":"MPPI","value":1.55},{"year":2001.49,"series":"MPPI","value":1.55},{"year":2001.75,"series":"MPPI","value":1.8},{"year":2002.02,"series":"MPPI","value":1.8},{"year":2002.28,"series":"MPPI","value":1.48},{"year":2003.42,"series":"MPPI","value":1.48},{"year":2003.68,"series":"MPPI","value":1.23},{"year":2004.21,"series":"MPPI","value":1.23},{"year":2004.44,"series":"MPPI","value":6.3},{"year":2004.82,"series":"MPPI","value":6.3},{"year":2005.14,"series":"MPPI","value":5.74},{"year":2006.67,"series":"MPPI","value":5.74},{"year":2006.93,"series":"MPPI","value":8.58},{"year":2007.14,"series":"MPPI","value":5.27},{"year":2007.54,"series":"MPPI","value":5.27},{"year":2007.81,"series":"MPPI","value":5.74},{"year":2010.79,"series":"MPPI","value":5.74},{"year":2011.05,"series":"MPPI","value":5.27},{"year":2011.67,"series":"MPPI","value":5.27},{"year":2011.93,"series":"MPPI","value":4.8},{"year":2012.19,"series":"MPPI","value":4.48},{"year":2012.46,"series":"MPPI","value":4.0},{"year":2013.25,"series":"MPPI","value":4.0},{"year":2013.51,"series":"MPPI","value":5.05},{"year":2015.7,"series":"MPPI","value":5.05},{"year":2015.96,"series":"MPPI","value":5.43},{"year":2016.23,"series":"MPPI","value":6.06},{"year":2016.49,"series":"MPPI","value":6.06},{"year":2016.75,"series":"MPPI","value":7.07},{"year":2017.02,"series":"MPPI","value":7.07},{"year":2017.28,"series":"MPPI","value":7.7},{"year":2017.89,"series":"MPPI","value":7.7},{"year":2018.16,"series":"MPPI","value":8.27},{"year":2018.6,"series":"MPPI","value":8.27},{"year":2018.86,"series":"MPPI","value":8.8},{"year":2019.21,"series":"MPPI","value":9.53},{"year":2019.47,"series":"MPPI","value":9.53},{"year":2019.74,"series":"MPPI","value":10.38},
{"year":2000.23,"series":"STIR","value":7.22},{"year":2000.47,"series":"STIR","value":7.85},{"year":2000.7,"series":"STIR","value":6.37},{"year":2000.96,"series":"STIR","value":6.78},{"year":2001.23,"series":"STIR","value":7.32},{"year":2001.49,"series":"STIR","value":7.63},{"year":2001.75,"series":"STIR","value":7.0},{"year":2001.98,"series":"STIR","value":5.74},{"year":2002.19,"series":"STIR","value":4.64},{"year":2002.46,"series":"STIR","value":5.11},{"year":2002.89,"series":"STIR","value":5.0},{"year":2003.16,"series":"STIR","value":5.9},{"year":2003.42,"series":"STIR","value":6.15},{"year":2003.68,"series":"STIR","value":5.65},{"year":2003.98,"series":"STIR","value":4.95},{"year":2004.21,"series":"STIR","value":5.58},{"year":2004.47,"series":"STIR","value":4.38},{"year":2004.74,"series":"STIR","value":3.75},{"year":2005.0,"series":"STIR","value":3.63},{"year":2005.53,"series":"STIR","value":3.75},{"year":2005.96,"series":"STIR","value":3.85},{"year":2006.32,"series":"STIR","value":3.53},{"year":2006.58,"series":"STIR","value":3.31},{"year":2006.93,"series":"STIR","value":3.38},{"year":2007.28,"series":"STIR","value":3.85},{"year":2007.63,"series":"STIR","value":4.23},{"year":2007.9,"series":"STIR","value":4.48},{"year":2008.16,"series":"STIR","value":4.32},{"year":2008.42,"series":"STIR","value":4.48},{"year":2008.72,"series":"STIR","value":4.64},{"year":2009.0,"series":"STIR","value":3.75},{"year":2009.21,"series":"STIR","value":1.8},{"year":2009.56,"series":"STIR","value":0.79},{"year":2010.0,"series":"STIR","value":0.54},{"year":2010.44,"series":"STIR","value":0.47},{"year":2010.79,"series":"STIR","value":0.79},{"year":2011.14,"series":"STIR","value":0.91},{"year":2011.49,"series":"STIR","value":1.32},{"year":2011.75,"series":"STIR","value":1.48},{"year":2012.02,"series":"STIR","value":1.23},{"year":2012.28,"series":"STIR","value":0.69},{"year":2012.72,"series":"STIR","value":0.22},{"year":2013.25,"series":"STIR","value":0.16},{"year":2013.95,"series":"STIR","value":0.22},{"year":2014.39,"series":"STIR","value":0.28},{"year":2014.82,"series":"STIR","value":0.06},{"year":2015.7,"series":"STIR","value":-0.1},{"year":2016.4,"series":"STIR","value":-0.25},{"year":2017.11,"series":"STIR","value":-0.35},{"year":2018.33,"series":"STIR","value":-0.32},{"year":2019.39,"series":"STIR","value":-0.32},{"year":2019.74,"series":"STIR","value":-0.41}
],
"SK": [
{"year":2000.26,"series":"MPPI","value":4.3},{"year":2000.53,"series":"MPPI","value":4.2},{"year":2000.79,"series":"MPPI","value":3.95},{"year":2001.05,"series":"MPPI","value":3.95},{"year":2001.23,"series":"MPPI","value":3.58},{"year":2001.49,"series":"MPPI","value":4.47},{"year":2002.02,"series":"MPPI","value":4.47},{"year":2002.23,"series":"MPPI","value":2.63},{"year":2002.72,"series":"MPPI","value":2.63},{"year":2002.98,"series":"MPPI","value":3.8},{"year":2003.25,"series":"MPPI","value":3.42},{"year":2003.77,"series":"MPPI","value":3.58},{"year":2003.98,"series":"MPPI","value":3.8},{"year":2004.21,"series":"MPPI","value":3.16},{"year":2006.93,"series":"MPPI","value":3.16},{"year":2007.19,"series":"MPPI","value":2.63},{"year":2008.86,"series":"MPPI","value":2.63},{"year":2009.04,"series":"MPPI","value":3.32},{"year":2011.32,"series":"MPPI","value":3.32},{"year":2011.58,"series":"MPPI","value":1.84},{"year":2012.54,"series":"MPPI","value":1.58},{"year":2012.8,"series":"MPPI","value":1.58},{"year":2013.07,"series":"MPPI","value":2.74},{"year":2013.33,"series":"MPPI","value":2.74},{"year":2013.6,"series":"MPPI","value":4.1},{"year":2014.12,"series":"MPPI","value":4.1},{"year":2014.47,"series":"MPPI","value":2.9},{"year":2014.74,"series":"MPPI","value":3.68},{"year":2015.09,"series":"MPPI","value":5.0},{"year":2015.35,"series":"MPPI","value":5.26},{"year":2015.61,"series":"MPPI","value":6.3},{"year":2015.88,"series":"MPPI","value":6.58},{"year":2016.23,"series":"MPPI","value":8.16},{"year":2016.58,"series":"MPPI","value":8.95},{"year":2016.93,"series":"MPPI","value":9.74},{"year":2017.28,"series":"MPPI","value":10.8},{"year":2017.63,"series":"MPPI","value":11.05},{"year":2017.98,"series":"MPPI","value":11.84},{"year":2018.25,"series":"MPPI","value":11.5},{"year":2018.51,"series":"MPPI","value":14.3},{"year":2018.77,"series":"MPPI","value":14.1},{"year":2019.04,"series":"MPPI","value":15.0},{"year":2019.3,"series":"MPPI","value":16.05},{"year":2019.56,"series":"MPPI","value":16.3},{"year":2019.77,"series":"MPPI","value":17.5},
{"year":2000.26,"series":"STIR","value":9.58},{"year":2000.53,"series":"STIR","value":8.68},{"year":2000.79,"series":"STIR","value":8.16},{"year":2001.14,"series":"STIR","value":8.05},{"year":2001.4,"series":"STIR","value":7.8},{"year":2002.33,"series":"STIR","value":7.8},{"year":2002.54,"series":"STIR","value":8.26},{"year":2002.8,"series":"STIR","value":8.3},{"year":2003.16,"series":"STIR","value":6.58},{"year":2003.77,"series":"STIR","value":6.42},{"year":2004.21,"series":"STIR","value":6.05},{"year":2004.56,"series":"STIR","value":4.74},{"year":2004.91,"series":"STIR","value":4.2},{"year":2005.18,"series":"STIR","value":3.16},{"year":2005.53,"series":"STIR","value":2.9},{"year":2005.88,"series":"STIR","value":3.05},{"year":2006.23,"series":"STIR","value":3.42},{"year":2006.58,"series":"STIR","value":4.47},{"year":2006.93,"series":"STIR","value":4.84},{"year":2007.28,"series":"STIR","value":4.2},{"year":2007.63,"series":"STIR","value":4.47},{"year":2008.68,"series":"STIR","value":4.37},{"year":2008.95,"series":"STIR","value":3.95},{"year":2009.21,"series":"STIR","value":2.0},{"year":2009.56,"series":"STIR","value":0.95},{"year":2010.09,"series":"STIR","value":0.68},{"year":2010.61,"series":"STIR","value":0.68},{"year":2010.96,"series":"STIR","value":0.95},{"year":2011.32,"series":"STIR","value":1.16},{"year":2011.67,"series":"STIR","value":1.47},{"year":2012.02,"series":"STIR","value":1.58},{"year":2012.37,"series":"STIR","value":1.16},{"year":2012.72,"series":"STIR","value":0.63},{"year":2013.07,"series":"STIR","value":0.37},{"year":2014.3,"series":"STIR","value":0.37},{"year":2014.65,"series":"STIR","value":0.42},{"year":2015.18,"series":"STIR","value":0.16},{"year":2016.05,"series":"STIR","value":0.0},{"year":2016.93,"series":"STIR","value":-0.16},{"year":2019.74,"series":"STIR","value":-0.26}
]
},
"concat": [
{"title": "BG", "width": 410, "height": 127, "data": {"name": "BG"}, "mark": "line",
 "encoding": {
  "x": {"field": "year", "type": "quantitative", "scale": {"domain": [1999.2, 2020.8], "nice": false}, "axis": {"title": null, "format": "d", "values": [2000, 2002.5, 2005, 2007.5, 2010, 2012.5, 2015, 2017.5, 2020], "labelExpr": "datum.value % 5 ? '' : datum.label", "gridWidth": {"condition": {"test": "datum.value % 5", "value": 1}, "value": 2}}},
  "y": {"field": "value", "type": "quantitative", "scale": {"zero": false, "nice": false, "padding": 5.8}, "axis": {"title": null, "format": ".0f", "values": [0, 2.5, 5, 7.5, 10, 12.5, 15], "labelExpr": "datum.value % 5 ? '' : datum.label", "gridWidth": {"condition": {"test": "datum.value % 5", "value": 1}, "value": 2}}},
  "color": {"field": "series", "type": "nominal", "scale": {"domain": ["MPPI", "STIR"], "range": ["#a6cee3", "#1f78b4"]}, "legend": {"title": null, "orient": "none", "legendX": 567, "legendY": 840}}
 }},
{"title": "CZ", "width": 410, "height": 127, "data": {"name": "CZ"}, "mark": "line",
 "encoding": {
  "x": {"field": "year", "type": "quantitative", "scale": {"domain": [1999.2, 2020.8], "nice": false}, "axis": {"title": null, "format": "d", "values": [2000, 2002.5, 2005, 2007.5, 2010, 2012.5, 2015, 2017.5, 2020], "labelExpr": "datum.value % 5 ? '' : datum.label", "gridWidth": {"condition": {"test": "datum.value % 5", "value": 1}, "value": 2}}},
  "y": {"field": "value", "type": "quantitative", "scale": {"zero": false, "nice": false, "padding": 5.8}, "axis": {"title": null, "format": ".0f", "values": [0, 2.5, 5, 7.5, 10, 12.5, 15, 17.5], "labelExpr": "datum.value % 5 ? '' : datum.label", "gridWidth": {"condition": {"test": "datum.value % 5", "value": 1}, "value": 2}}},
  "color": {"field": "series", "type": "nominal", "scale": {"domain": ["MPPI", "STIR"], "range": ["#a6cee3", "#1f78b4"]}, "legend": {"title": null, "orient": "none", "legendX": 567, "legendY": 840}}
 }},
{"title": "EE", "width": 410, "height": 127, "data": {"name": "EE"}, "mark": "line",
 "encoding": {
  "x": {"field": "year", "type": "quantitative", "scale": {"domain": [1999.2, 2020.8], "nice": false}, "axis": {"title": null, "format": "d", "values": [2000, 2002.5, 2005, 2007.5, 2010, 2012.5, 2015, 2017.5, 2020], "labelExpr": "datum.value % 5 ? '' : datum.label", "gridWidth": {"condition": {"test": "datum.value % 5", "value": 1}, "value": 2}}},
  "y": {"field": "value", "type": "quantitative", "scale": {"zero": false, "nice": false, "padding": 5.8}, "axis": {"title": null, "format": ".1f", "values": [0, 1.25, 2.5, 3.75, 5, 6.25, 7.5, 8.75], "labelExpr": "datum.value % 2.5 ? '' : datum.label", "gridWidth": {"condition": {"test": "datum.value % 2.5", "value": 1}, "value": 2}}},
  "color": {"field": "series", "type": "nominal", "scale": {"domain": ["MPPI", "STIR"], "range": ["#a6cee3", "#1f78b4"]}, "legend": {"title": null, "orient": "none", "legendX": 567, "legendY": 840}}
 }},
{"title": "HR", "width": 410, "height": 127, "data": {"name": "HR"}, "mark": "line",
 "encoding": {
  "x": {"field": "year", "type": "quantitative", "scale": {"domain": [1999.2, 2020.8], "nice": false}, "axis": {"title": null, "format": "d", "values": [2000, 2002.5, 2005, 2007.5, 2010, 2012.5, 2015, 2017.5, 2020], "labelExpr": "datum.value % 5 ? '' : datum.label", "gridWidth": {"condition": {"test": "datum.value % 5", "value": 1}, "value": 2}}},
  "y": {"field": "value", "type": "quantitative", "scale": {"zero": false, "nice": false, "padding": 5.8}, "axis": {"title": null, "format": ".0f", "values": [0, 2.5, 5, 7.5, 10, 12.5, 15, 17.5, 20, 22.5], "labelExpr": "datum.value % 5 ? '' : datum.label", "gridWidth": {"condition": {"test": "datum.value % 5", "value": 1}, "value": 2}}},
  "color": {"field": "series", "type": "nominal", "scale": {"domain": ["MPPI", "STIR"], "range": ["#a6cee3", "#1f78b4"]}, "legend": {"title": null, "orient": "none", "legendX": 567, "legendY": 840}}
 }},
{"title": "HU", "width": 410, "height": 127, "data": {"name": "HU"}, "mark": "line",
 "encoding": {
  "x": {"field": "year", "type": "quantitative", "scale": {"domain": [1999.2, 2020.8], "nice": false}, "axis": {"title": null, "format": "d", "values": [2000, 2002.5, 2005, 2007.5, 2010, 2012.5, 2015, 2017.5, 2020], "labelExpr": "datum.value % 5 ? '' : datum.label", "gridWidth": {"condition": {"test": "datum.value % 5", "value": 1}, "value": 2}}},
  "y": {"field": "value", "type": "quantitative", "scale": {"zero": false, "nice": false, "padding": 5.8}, "axis": {"title": null, "format": ".0f", "values": [0, 2.5, 5, 7.5, 10, 12.5, 15, 17.5], "labelExpr": "datum.value % 5 ? '' : datum.label", "gridWidth": {"condition": {"test": "datum.value % 5", "value": 1}, "value": 2}}},
  "color": {"field": "series", "type": "nominal", "scale": {"domain": ["MPPI", "STIR"], "range": ["#a6cee3", "#1f78b4"]}, "legend": {"title": null, "orient": "none", "legendX": 567, "legendY": 840}}
 }},
{"title": "LT", "width": 410, "height": 127, "data": {"name": "LT"}, "mark": "line",
 "encoding": {
  "x": {"field": "year", "type": "quantitative", "scale": {"domain": [1999.2, 2020.8], "nice": false}, "axis": {"title": null, "format": "d", "values": [2000, 2002.5, 2005, 2007.5, 2010, 2012.5, 2015, 2017.5, 2020], "labelExpr": "datum.value % 5 ? '' : datum.label", "gridWidth": {"condition": {"test": "datum.value % 5", "value": 1}, "value": 2}}},
  "y": {"field": "value", "type": "quantitative", "scale": {"zero": false, "nice": false, "padding": 5.8}, "axis": {"title": null, "format": ".0f", "values": [-5, -2.5, 0, 2.5, 5, 7.5], "labelExpr": "datum.value % 5 ? '' : datum.label", "gridWidth": {"condition": {"test": "datum.value % 5", "value": 1}, "value": 2}}},
  "color": {"field": "series", "type": "nominal", "scale": {"domain": ["MPPI", "STIR"], "range": ["#a6cee3", "#1f78b4"]}, "legend": {"title": null, "orient": "none", "legendX": 567, "legendY": 840}}
 }},
{"title": {"text": "LV", "offset": 1}, "width": 410, "height": 127, "data": {"name": "LV"}, "mark": "line",
 "encoding": {
  "x": {"field": "year", "type": "quantitative", "scale": {"domain": [1999.2, 2020.8], "nice": false}, "axis": {"title": null, "format": "d", "values": [2000, 2002.5, 2005, 2007.5, 2010, 2012.5, 2015, 2017.5, 2020], "labelExpr": "datum.value % 5 ? '' : datum.label", "gridWidth": {"condition": {"test": "datum.value % 5", "value": 1}, "value": 2}}},
  "y": {"field": "value", "type": "quantitative", "scale": {"zero": false, "nice": false, "padding": 5.8}, "axis": {"title": null, "format": ".0f", "values": [-2.5, 0, 2.5, 5, 7.5, 10], "labelExpr": "datum.value % 5 ? '' : datum.label", "gridWidth": {"condition": {"test": "datum.value % 5", "value": 1}, "value": 2}}},
  "color": {"field": "series", "type": "nominal", "scale": {"domain": ["MPPI", "STIR"], "range": ["#a6cee3", "#1f78b4"]}, "legend": {"title": null, "orient": "none", "legendX": 567, "legendY": 840}}
 }},
{"title": "PL", "width": 410, "height": 127, "data": {"name": "PL"}, "mark": "line",
 "encoding": {
  "x": {"field": "year", "type": "quantitative", "scale": {"domain": [1999.2, 2020.8], "nice": false}, "axis": {"title": null, "format": "d", "values": [2000, 2002.5, 2005, 2007.5, 2010, 2012.5, 2015, 2017.5, 2020], "labelExpr": "datum.value % 5 ? '' : datum.label", "gridWidth": {"condition": {"test": "datum.value % 5", "value": 1}, "value": 2}}},
  "y": {"field": "value", "type": "quantitative", "scale": {"zero": false, "nice": false, "padding": 5.8}, "axis": {"title": null, "format": ".0f", "values": [-5, -2.5, 0, 2.5, 5, 7.5, 10, 12.5, 15, 17.5, 20, 22.5], "labelExpr": "datum.value % 5 ? '' : datum.label", "gridWidth": {"condition": {"test": "datum.value % 5", "value": 1}, "value": 2}}},
  "color": {"field": "series", "type": "nominal", "scale": {"domain": ["MPPI", "STIR"], "range": ["#a6cee3", "#1f78b4"]}, "legend": {"title": null, "orient": "none", "legendX": 567, "legendY": 840}}
 }},
{"title": "RO", "width": 410, "height": 127, "data": {"name": "RO"}, "mark": "line",
 "encoding": {
  "x": {"field": "year", "type": "quantitative", "scale": {"domain": [1999.2, 2020.8], "nice": false}, "axis": {"title": null, "format": "d", "values": [2000, 2002.5, 2005, 2007.5, 2010, 2012.5, 2015, 2017.5, 2020], "labelExpr": "datum.value % 5 ? '' : datum.label", "gridWidth": {"condition": {"test": "datum.value % 5", "value": 1}, "value": 2}}},
  "y": {"field": "value", "type": "quantitative", "scale": {"zero": false, "nice": false, "padding": 5.8}, "axis": {"title": null, "format": ".0f", "values": [0, 10, 20, 30, 40, 50], "labelExpr": "datum.value % 20 ? '' : datum.label", "gridWidth": {"condition": {"test": "datum.value % 20", "value": 1}, "value": 2}}},
  "color": {"field": "series", "type": "nominal", "scale": {"domain": ["MPPI", "STIR"], "range": ["#a6cee3", "#1f78b4"]}, "legend": {"title": null, "orient": "none", "legendX": 567, "legendY": 840}}
 }},
{"title": "SI", "width": 410, "height": 127, "data": {"name": "SI"}, "mark": "line",
 "encoding": {
  "x": {"field": "year", "type": "quantitative", "scale": {"domain": [1999.2, 2020.8], "nice": false}, "axis": {"title": null, "format": "d", "values": [2000, 2002.5, 2005, 2007.5, 2010, 2012.5, 2015, 2017.5, 2020], "labelExpr": "datum.value % 5 ? '' : datum.label", "gridWidth": {"condition": {"test": "datum.value % 5", "value": 1}, "value": 2}}},
  "y": {"field": "value", "type": "quantitative", "scale": {"zero": false, "nice": false, "padding": 5.8}, "axis": {"title": null, "format": ".1f", "values": [0, 1.25, 2.5, 3.75, 5, 6.25, 7.5, 8.75, 10], "labelExpr": "datum.value % 2.5 ? '' : datum.label", "gridWidth": {"condition": {"test": "datum.value % 2.5", "value": 1}, "value": 2}}},
  "color": {"field": "series", "type": "nominal", "scale": {"domain": ["MPPI", "STIR"], "range": ["#a6cee3", "#1f78b4"]}, "legend": {"title": null, "orient": "none", "legendX": 567, "legendY": 840}}
 }},
{"title": "SK", "width": 410, "height": 127, "data": {"name": "SK"}, "mark": "line",
 "encoding": {
  "x": {"field": "year", "type": "quantitative", "scale": {"domain": [1999.2, 2020.8], "nice": false}, "axis": {"title": null, "format": "d", "values": [2000, 2002.5, 2005, 2007.5, 2010, 2012.5, 2015, 2017.5, 2020], "labelExpr": "datum.value % 5 ? '' : datum.label", "gridWidth": {"condition": {"test": "datum.value % 5", "value": 1}, "value": 2}}},
  "y": {"field": "value", "type": "quantitative", "scale": {"zero": false, "nice": false, "padding": 5.8}, "axis": {"title": null, "format": ".0f", "values": [0, 2.5, 5, 7.5, 10, 12.5, 15, 17.5], "labelExpr": "datum.value % 5 ? '' : datum.label", "gridWidth": {"condition": {"test": "datum.value % 5", "value": 1}, "value": 2}}},
  "color": {"field": "series", "type": "nominal", "scale": {"domain": ["MPPI", "STIR"], "range": ["#a6cee3", "#1f78b4"]}, "legend": {"title": null, "orient": "none", "legendX": 567, "legendY": 840}}
 }}
],
"config": {
 "font": "Liberation Sans",
 "view": {"stroke": null},
 "line": {"strokeWidth": 4},
 "axis": {"domain": false, "ticks": false, "tickSize": 0, "labelFontSize": 18, "labelColor": "#4d4d4d", "labelPadding": 10, "gridColor": "#ebebeb"},
 "title": {"fontSize": 18, "fontWeight": "normal", "color": "#1a1a1a", "anchor": "middle", "frame": "group", "offset": 6},
 "legend": {"direction": "horizontal", "symbolType": "stroke", "symbolSize": 900, "symbolStrokeWidth": 4, "labelFontSize": 19, "labelColor": "#000000", "labelOffset": 16, "columnPadding": 8}
}
}
